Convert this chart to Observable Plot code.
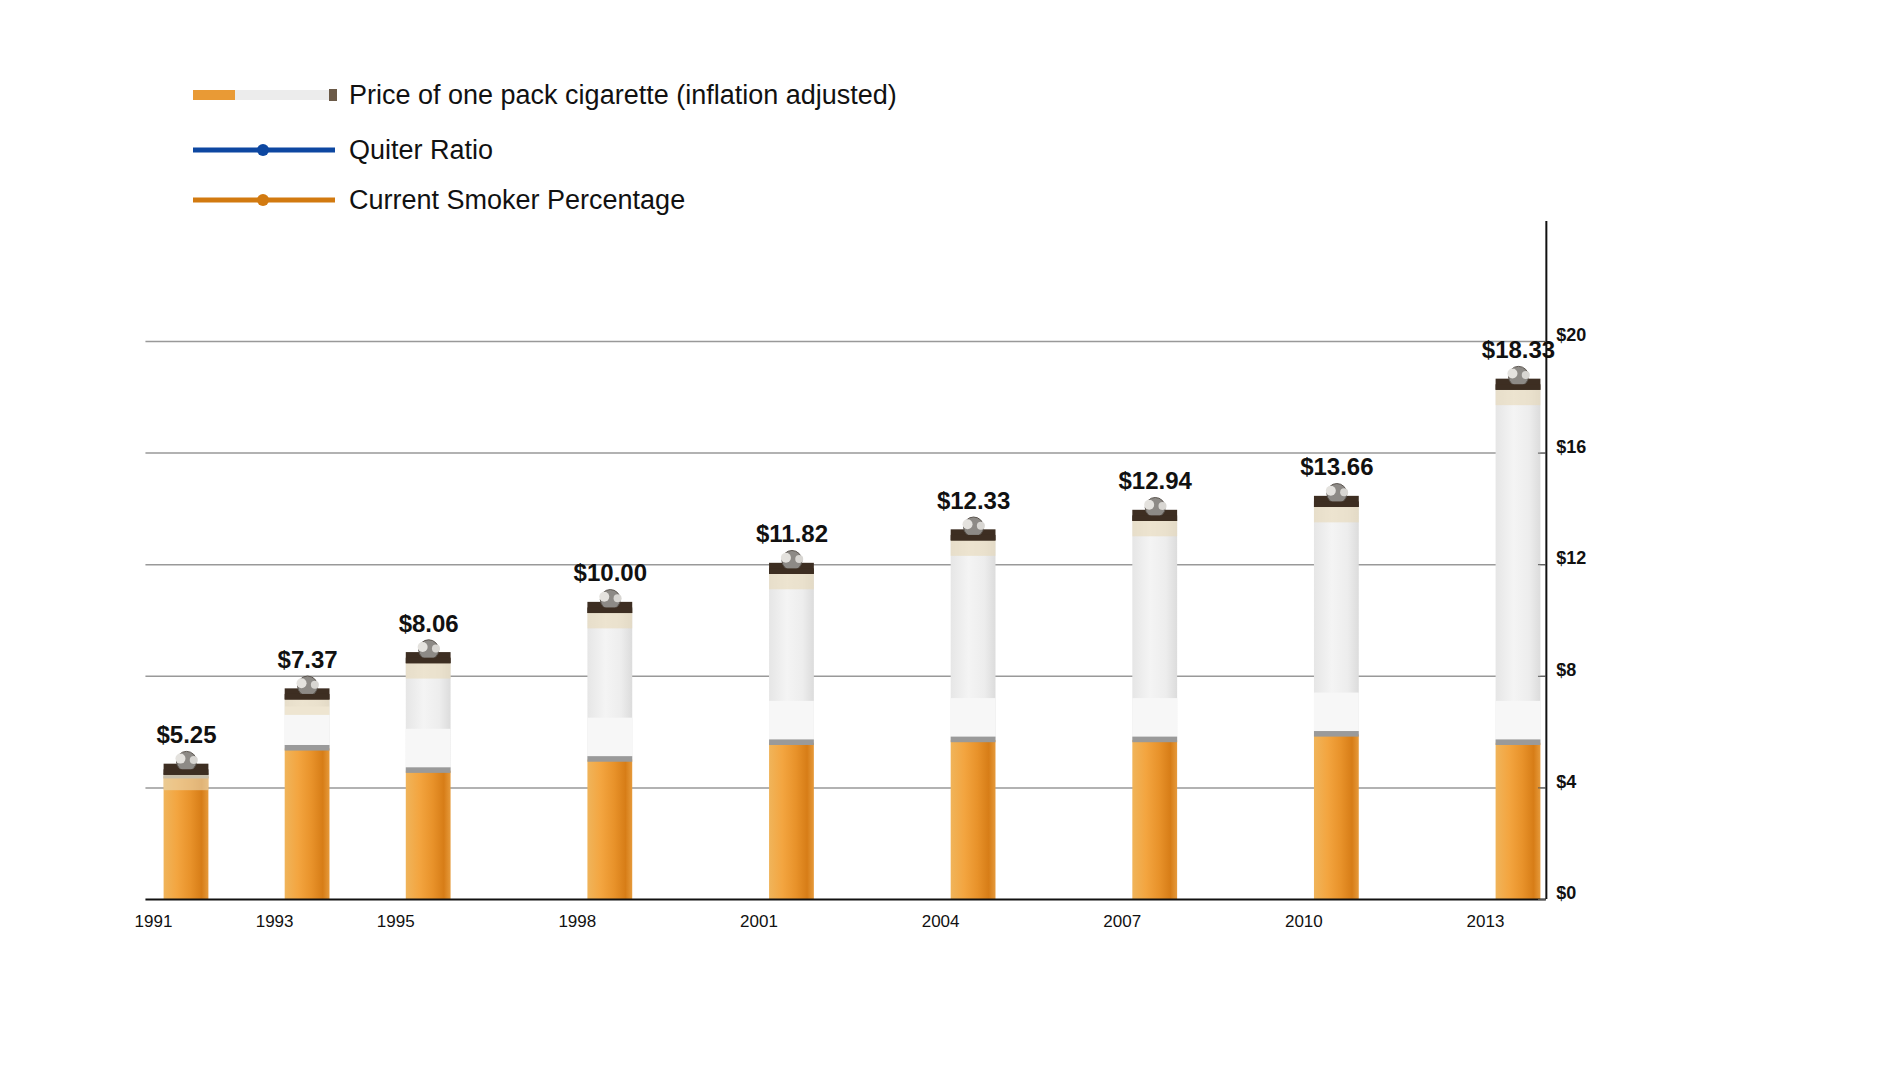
<!DOCTYPE html>
<html><head><meta charset="utf-8">
<script src="https://cdn.jsdelivr.net/npm/d3@7"></script>
<script src="https://cdn.jsdelivr.net/npm/@observablehq/plot@0.6"></script>
<style>
body{margin:0;background:#fff;font-family:"Liberation Sans",Arial,sans-serif;}
#wrap{position:relative;width:1886px;height:1092px;}
.lg{position:absolute;left:193px;height:40px;display:flex;align-items:center;font-size:27px;color:#111;}
.lg svg{margin-right:12px}
#chart{position:absolute;left:0;top:207px;}
</style></head><body>
<div id="wrap">
<div class="lg" style="top:75px">
<svg width="144" height="16"><rect x="0" y="3" width="42" height="10" fill="#e99a35"/><rect x="42" y="3" width="96" height="10" fill="#ececec"/><rect x="136" y="2" width="8" height="12" fill="#6b5a48"/></svg>Price of one pack cigarette (inflation adjusted)</div>
<div class="lg" style="top:130px">
<svg width="144" height="16"><line x1="0" y1="8" x2="142" y2="8" stroke="#0d47a1" stroke-width="5"/><circle cx="70" cy="8" r="6" fill="#0d47a1"/></svg>Quiter Ratio</div>
<div class="lg" style="top:180px">
<svg width="144" height="16"><line x1="0" y1="8" x2="142" y2="8" stroke="#d27a10" stroke-width="5"/><circle cx="70" cy="8" r="6" fill="#d27a10"/></svg>Current Smoker Percentage</div>
<div id="chart"></div>
</div>
<script>
const years = [1991,1993,1995,1998,2001,2004,2007,2010,2013];
const price = [5.25,7.37,8.06,10.00,11.82,12.33,12.94,13.66,18.33];
const cigTop = [4.6,7.3,8.6,10.4,11.8,13.0,13.7,14.2,18.4];
const filterTop = [4.4,5.4,4.6,5.0,5.6,5.7,5.7,5.9,5.6];
const yTicks = [0,4,8,12,16,20];

const data = years.map((y,i)=>({year:y,price:price[i],top:cigTop[i],filter:filterTop[i]}));
const hw = 0.37;
const plot = Plot.plot({
  width:1886, height:877,
  marginLeft:186, marginRight:368, marginTop:134, marginBottom:185,
  x:{domain:[1991,2013], axis:null},
  y:{domain:[0,20], axis:null},
  style:{fontFamily:"Liberation Sans, Arial, sans-serif", overflow:"visible"},
  marks:[
    Plot.ruleY(yTicks.slice(1),{x1:1990.33,x2:2013.46,stroke:"#999",strokeWidth:1.5}),
    Plot.rect(data,{x1:d=>d.year-hw,x2:d=>d.year+hw,y1:"filter",y2:"top",fill:"url(#paper)"}),
    Plot.rect(data,{x1:d=>d.year-hw,x2:d=>d.year+hw,y1:"filter",y2:d=>Math.min(d.top,d.filter+1.5),fill:"#f7f7f7"}),
    Plot.rect(data,{x1:d=>d.year-hw,x2:d=>d.year+hw,y1:0,y2:"filter",fill:"url(#filt)"}),
    Plot.rect(data,{x1:d=>d.year-hw,x2:d=>d.year+hw,y1:d=>d.filter-0.08,y2:d=>d.filter+0.12,fill:"#9a9a9a"}),
    Plot.rect(data,{x1:d=>d.year-hw,x2:d=>d.year+hw,y1:d=>d.top-0.7,y2:d=>d.top-0.1,fill:"#e8d8b8",fillOpacity:0.6}),
    Plot.rect(data,{x1:d=>d.year-hw,x2:d=>d.year+hw,y1:d=>d.top-0.15,y2:d=>d.top+0.25,fill:"#3d2e22"}),
    Plot.dot(data,{x:"year",y:d=>d.top+0.35,r:10,fill:"#8d8a86",stroke:"#5a544e",strokeWidth:1}),
    Plot.dot(data,{x:d=>d.year-0.1,y:d=>d.top+0.45,r:5,fill:"#e4e2de"}),
    Plot.dot(data,{x:d=>d.year+0.12,y:d=>d.top+0.4,r:4,fill:"#d8d6d2"}),
    Plot.rect(data,{x1:d=>d.year-hw,x2:d=>d.year+hw,y1:d=>d.top-0.15,y2:d=>d.top+0.05,fill:"#3d2e22"}),
    Plot.text(data,{x:"year",y:d=>d.top+1.0,text:d=>"$"+d.price.toFixed(2),fontSize:24,fontWeight:"bold",fill:"#111",lineAnchor:"bottom"}),
    Plot.ruleY([0],{x1:1990.33,x2:2013.46,stroke:"#111",strokeWidth:2}),
    Plot.ruleX([2013.46],{y1:0,y2:24.3,stroke:"#111",strokeWidth:2}),
    Plot.ruleY(yTicks,{x1:2013.33,x2:2013.46,stroke:"#555"}),
    Plot.text(yTicks,{x:2013.46,y:d=>d,dx:10,text:d=>"$"+d,textAnchor:"start",fontSize:18,fontWeight:"bold",fill:"#111",dy:-6}),
    Plot.text(years,{x:d=>d,y:0,dx:-33,dy:22,text:d=>String(d),fontSize:17,fill:"#111"})
  ]
});
const svg = d3.select(plot);
const defs = svg.insert("defs",":first-child");
const g1 = defs.append("linearGradient").attr("id","filt");
[["0%","#f0b45a"],["30%","#f3a540"],["60%","#e8922a"],["85%","#d77d17"],["100%","#e69a3b"]].forEach(([o,c])=>g1.append("stop").attr("offset",o).attr("stop-color",c));
const g2 = defs.append("linearGradient").attr("id","paper");
[["0%","#e6e6e6"],["40%","#f4f4f4"],["75%","#ededed"],["100%","#dcdcdc"]].forEach(([o,c])=>g2.append("stop").attr("offset",o).attr("stop-color",c));
document.getElementById("chart").appendChild(plot);
</script>
</body></html>
